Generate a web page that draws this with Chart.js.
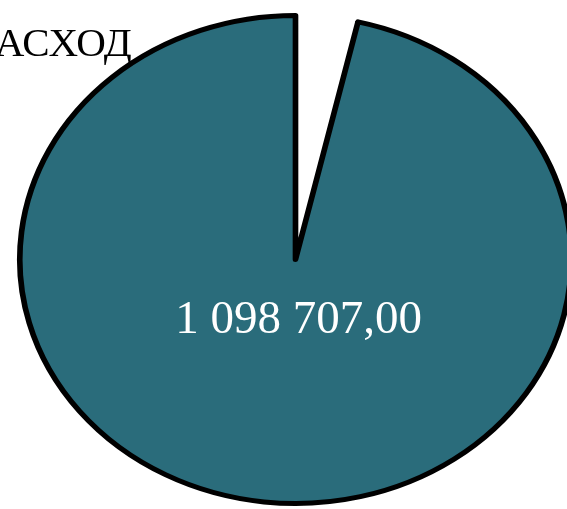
<!DOCTYPE html>
<html>
<head>
<meta charset="utf-8">
<script src="https://cdn.jsdelivr.net/npm/chart.js@4"></script>
<style>
  html, body { margin: 0; padding: 0; background: #fff; overflow: hidden; }
  canvas { display: block; }
</style>
</head>
<body>
<canvas id="rashodChart" width="567" height="509"></canvas>
<script>
// data
const title = 'РАСХОД';
const categories = ['', 'РАСХОД'];
const values = [41500, 1098707];
const valueLabels = ['', '1 098 707,00'];

const sliceColors = ['#ffffff', '#2a6c7b'];
const stretchX = 1.13; // the original pie is slightly oval

// stretch the pie sideways and put the value text + title on top
const ovalPie = {
    id: 'ovalPie',
    beforeDatasetsDraw(chart) {
        const arc = chart.getDatasetMeta(0).data[0];
        const ctx = chart.ctx;
        ctx.save();
        ctx.translate(arc.x, arc.y);
        ctx.scale(stretchX, 1);
        ctx.translate(-arc.x, -arc.y);
    },
    afterDatasetsDraw(chart) {
        const ctx = chart.ctx;
        ctx.restore();

        const meta = chart.getDatasetMeta(0);
        ctx.save();
        ctx.fillStyle = '#ffffff';
        ctx.font = '47px "Liberation Serif", "Times New Roman", serif';
        ctx.textAlign = 'center';
        ctx.textBaseline = 'middle';
        meta.data.forEach((arc, i) => {
            if (!valueLabels[i]) return;
            ctx.fillText(valueLabels[i], arc.x + 3, arc.y + arc.outerRadius * 0.25);
        });

        // title sticks out past the left edge like in the original
        ctx.fillStyle = '#000000';
        ctx.font = '41px "Liberation Serif", "Times New Roman", serif';
        ctx.textAlign = 'left';
        ctx.textBaseline = 'alphabetic';
        const cut = ctx.measureText(title.charAt(0)).width;
        ctx.fillText(title, -cut, 56);
        ctx.restore();
    }
};

new Chart(document.getElementById('rashodChart'), {
    type: 'pie',
    data: {
        labels: categories,
        datasets: [{
            data: values,
            backgroundColor: sliceColors,
            borderColor: '#000000',
            borderWidth: [0, 5],
            borderJoinStyle: 'round',
            clip: false
        }]
    },
    options: {
        responsive: false,
        devicePixelRatio: 1,
        animation: false,
        events: [],
        layout: {
            padding: { top: 13, bottom: 3, left: 49, right: 25 }
        },
        plugins: {
            legend: { display: false },
            tooltip: { enabled: false },
            title: { display: false }
        }
    },
    plugins: [ovalPie]
});
</script>
</body>
</html>
